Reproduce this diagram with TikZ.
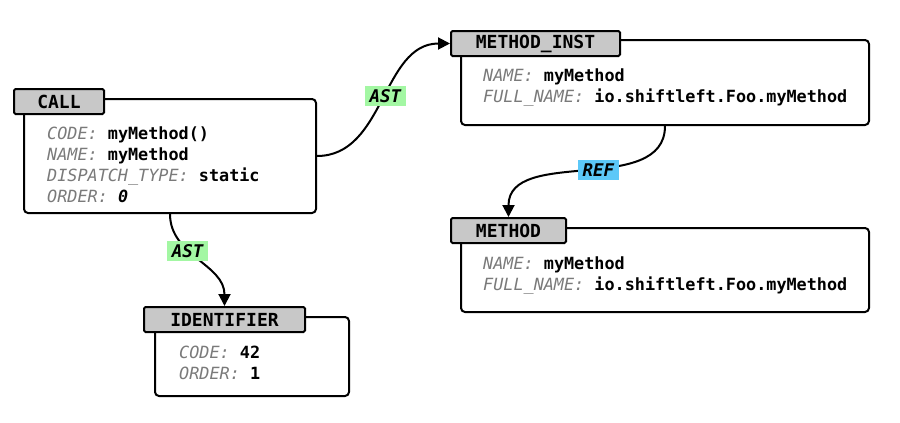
\documentclass[tikz,border=0pt]{standalone}
\usepackage{fontspec}
\setmainfont{DejaVu Sans Mono}
\usetikzlibrary{arrows.meta}

\definecolor{tabgray}{HTML}{C8C8C8}
\definecolor{keygray}{HTML}{7A7A7A}
\definecolor{astgreen}{HTML}{A3F7A3}
\definecolor{refblue}{HTML}{5CC8F8}

\newcommand{\propline}[2]{{\color{keygray}\itshape #1:} \textbf{#2}}

\tikzset{
  body/.style={draw, line width=2pt, rounded corners=4pt, fill=white, inner sep=0pt},
  tab/.style={draw, line width=2pt, fill=tabgray, rounded corners=1.5pt, inner sep=0pt,
    minimum height=25pt, font=\fontsize{18}{20}\selectfont\bfseries},
  props/.style={anchor=north west, align=left, inner sep=0pt,
    font=\fontsize{16.8}{21}\selectfont},
  edge/.style={line width=2pt, -{Triangle[length=12pt,width=12pt]}},
  astlbl/.style={fill=astgreen, inner xsep=5pt, inner ysep=3pt, minimum height=20pt,
    font=\fontsize{17.5}{19}\selectfont\bfseries\itshape},
  reflbl/.style={astlbl, fill=refblue},
}

\begin{document}
\begin{tikzpicture}[x=1pt,y=-1pt]
\useasboundingbox (0,0) rectangle (900,423);

% CALL
\node[body, minimum width=292pt, minimum height=114pt] (call) at (170,156) {};
\node[tab, minimum width=90pt] (call-tab) at (59,101.5) {CALL};
\node[props] (call-txt) at (47,127) {\propline{CODE}{myMethod()}\\
  \propline{NAME}{myMethod}\\
  \propline{DISPATCH\_TYPE}{static}\\
  \propline{ORDER}{\itshape 0}};

% METHOD_INST
\node[body, minimum width=408pt, minimum height=85pt] (minst) at (665,82.5) {};
\node[tab, minimum width=169pt] (minst-tab) at (535.5,43.5) {METHOD\_INST};
\node[props] (minst-txt) at (483,68.5) {\propline{NAME}{myMethod}\\
  \propline{FULL\_NAME}{io.shiftleft.Foo.myMethod}};

% METHOD
\node[body, minimum width=408pt, minimum height=84pt] (meth) at (665,270) {};
\node[tab, minimum width=115pt] (meth-tab) at (508.5,230.5) {METHOD};
\node[props] (meth-txt) at (483,256.5) {\propline{NAME}{myMethod}\\
  \propline{FULL\_NAME}{io.shiftleft.Foo.myMethod}};

% IDENTIFIER
\node[body, minimum width=194pt, minimum height=79pt] (ident) at (252,356.5) {};
\node[tab, minimum width=161pt] (ident-tab) at (224.5,319.5) {IDENTIFIER};
\node[props] (ident-txt) at (179,345.5) {\propline{CODE}{42}\\
  \propline{ORDER}{1}};

% ========== edges ==========
\draw[edge] (call.east) to[out=0,in=180]
  node[astlbl, pos=0.52] (ast-a) {AST} (minst-tab.west);
\draw[edge] (minst.south) to[out=-90,in=90]
  node[reflbl, pos=0.45] (ref-a) {REF} (meth-tab.north);
\draw[edge] (call.south) to[out=-90,in=90]
  node[astlbl, pos=0.38] (ast-b) {AST} (ident-tab.north);
\end{tikzpicture}
\end{document}
